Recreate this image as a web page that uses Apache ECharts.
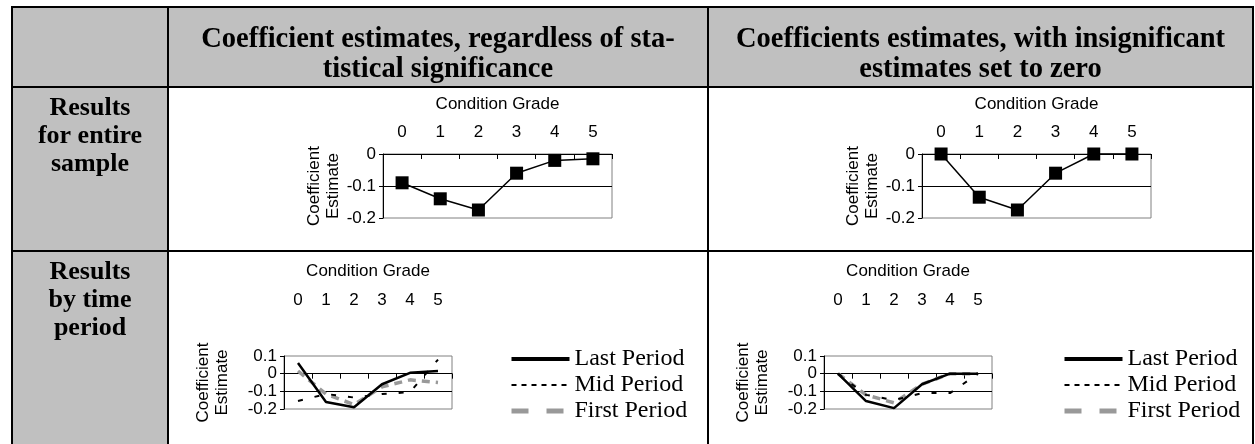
<!DOCTYPE html>
<html><head><meta charset="utf-8">
<script src="https://cdn.jsdelivr.net/npm/echarts@6/dist/echarts.min.js"></script>
<style>html,body{margin:0;padding:0;background:#fff}#c{width:1255px;height:444px}</style>
</head><body><div id="c"></div>
<script>
// ---- data ----
const categories = ['0', '1', '2', '3', '4', '5'];
const colHeaders = [
  ['Coefficient estimates, regardless of sta-', 'tistical significance'],
  ['Coefficients estimates, with insignificant', 'estimates set to zero']
];
const rowHeaders = [
  ['Results', 'for entire', 'sample'],
  ['Results', 'by time', 'period']
];
const axisTitleX = 'Condition Grade';
const axisTitleY = 'Coefficient\nEstimate';
const periodNames = ['Last Period', 'Mid Period', 'First Period'];

const entireAll = [-0.09, -0.14, -0.175, -0.06, -0.02, -0.015];
const entireSig = [0, -0.135, -0.175, -0.06, 0, 0];

const lastAll  = [0.06, -0.16, -0.19, -0.06, 0.005, 0.015];
const midAll   = [-0.155, -0.115, -0.135, -0.115, -0.105, 0.08];
const firstAll = [0.015, -0.115, -0.175, -0.075, -0.035, -0.05];

const lastSig  = [0, -0.155, -0.195, -0.06, 0, 0];
const midSig   = [0, -0.12, -0.15, -0.11, -0.11, 0];
const firstSig = [0, -0.12, -0.165, -0.06, 0, 0];

// ---- styles ----
const SANS = 'Liberation Sans', SERIF = 'Liberation Serif';
const GRAY = '#c0c0c0';
const fmt = v => (Math.abs(v) < 1e-9 ? '0' : v.toFixed(1));

const grids = [
  {left: 383, top: 154, width: 229, height: 64},
  {left: 922, top: 154, width: 229, height: 64},
  {left: 284, top: 356, width: 168, height: 53},
  {left: 824, top: 356, width: 168, height: 53}
].map(g => Object.assign(g, {show: true, borderColor: '#808080', borderWidth: 1, backgroundColor: 'transparent'}));

function labelAxis(gi, margin, nameGap, showLine) {
  return {
    type: 'category', gridIndex: gi, data: categories, position: 'top', boundaryGap: true,
    name: axisTitleX, nameLocation: 'middle', nameGap: nameGap,
    nameTextStyle: {fontFamily: SANS, fontSize: 17, color: '#000'},
    axisLine: {show: showLine, onZero: false, lineStyle: {color: '#000', width: 1}},
    axisTick: {show: showLine, inside: true, length: 5, lineStyle: {color: '#000'}},
    axisLabel: {margin: margin, fontFamily: SANS, fontSize: 17, color: '#000'},
    splitLine: {show: false}
  };
}
function zeroAxis(gi) {
  return {
    type: 'category', gridIndex: gi, data: categories, position: 'top', boundaryGap: true,
    axisLine: {show: true, onZero: true, lineStyle: {color: '#000', width: 1}},
    axisTick: {show: true, inside: true, length: 5, lineStyle: {color: '#000'}},
    axisLabel: {show: false}, splitLine: {show: false}
  };
}
function valAxis(gi, min, max, nameGap, margin) {
  return {
    type: 'value', gridIndex: gi, min: min, max: max, interval: 0.1, position: 'left',
    name: axisTitleY, nameLocation: 'middle', nameGap: nameGap,
    nameTextStyle: {fontFamily: SANS, fontSize: 17, lineHeight: 19, color: '#000'},
    axisLine: {show: true, onZero: false, lineStyle: {color: '#000', width: 1}},
    axisTick: {show: true, length: 4, lineStyle: {color: '#000'}},
    axisLabel: {margin: margin, fontFamily: SANS, fontSize: 17, color: '#000', formatter: fmt},
    splitLine: {show: true, showMinLine: false, showMaxLine: false, lineStyle: {color: '#000', width: 1}}
  };
}

const xAxes = [
  labelAxis(0, 13, 41, true),
  labelAxis(1, 13, 41, true),
  labelAxis(2, 47, 76, false), zeroAxis(2),
  labelAxis(3, 47, 76, false), zeroAxis(3)
];
const yAxes = [
  valAxis(0, -0.2, 0, 40, 7), valAxis(1, -0.2, 0, 40, 7),
  valAxis(2, -0.2, 0.1, 52, 7), valAxis(3, -0.2, 0.1, 52, 7)
];

function markerSeries(name, xi, yi, data) {
  return {
    name: name, type: 'line', xAxisIndex: xi, yAxisIndex: yi, data: data, clip: false,
    symbol: 'rect', symbolSize: 13, showAllSymbol: true,
    itemStyle: {color: '#000'}, lineStyle: {color: '#000', width: 1.5}, z: 5
  };
}
const periodStyles = [
  {color: '#000', width: 2.5, type: 'solid', z: 6},
  {color: '#000', width: 2, type: [5, 12], z: 5},
  {color: '#999', width: 3.5, type: [8, 6], z: 4}
];
function periodSeries(xi, yi, sets) {
  return sets.map((d, i) => ({
    name: periodNames[i], type: 'line', xAxisIndex: xi, yAxisIndex: yi, data: d,
    symbol: 'none', clip: false, z: periodStyles[i].z,
    lineStyle: {color: periodStyles[i].color, width: periodStyles[i].width, type: periodStyles[i].type},
    itemStyle: {color: periodStyles[i].color}
  }));
}
const legendLine = [
  {color: '#000', width: 4, type: 'solid'},
  {color: '#000', width: 2, type: [5, 5]},
  {color: '#999', width: 5, type: [17, 18]}
];
function legendAt(left) {
  return {
    orient: 'vertical', left: left, top: 342, itemWidth: 58, itemHeight: 14, itemGap: 2,
    selectedMode: false,
    textStyle: {fontFamily: SERIF, fontSize: 24, color: '#000', lineHeight: 24},
    data: periodNames.map((n, i) => ({name: n, lineStyle: legendLine[i], itemStyle: {opacity: 0}}))
  };
}

// ---- table graphics ----
const g = [];
const L = 11, C1 = 167, C2 = 707, R = 1252, T = 6, H1 = 86, H2 = 250, B = 444;
g.push({type: 'rect', shape: {x: L, y: T, width: R - L, height: H1 - T}, style: {fill: GRAY}, z: 0});
g.push({type: 'rect', shape: {x: L, y: H1, width: C1 - L, height: B - H1}, style: {fill: GRAY}, z: 0});
const lines = [
  [L, T, R + 2, T], [L, H1, R + 2, H1], [L, H2, R + 2, H2],
  [L, T, L, B], [C1, T, C1, B], [C2, T, C2, B], [R, T, R, B]
];
lines.forEach(l => g.push({
  type: 'rect',
  shape: l[0] === l[2] ? {x: l[0], y: l[1], width: 2, height: l[3] - l[1]} : {x: l[0], y: l[1], width: l[2] - l[0], height: 2},
  style: {fill: '#000'}, z: 1
}));
const colCenters = [(C1 + C2) / 2 + 1, (C2 + R) / 2 + 1];
colHeaders.forEach((lns, ci) => lns.forEach((t, li) => g.push({
  type: 'text', x: colCenters[ci], y: 40 + li * 30, z: 2,
  style: {text: t, fontFamily: SERIF, fontWeight: 'bold', fontSize: 28.5, fill: '#000', align: 'center', verticalAlign: 'middle'}
})));
const rowTops = [108, 272];
rowHeaders.forEach((lns, ri) => lns.forEach((t, li) => g.push({
  type: 'text', x: (L + C1) / 2 + 1, y: rowTops[ri] + li * 28, z: 2,
  style: {text: t, fontFamily: SERIF, fontWeight: 'bold', fontSize: 26, fill: '#000', align: 'center', verticalAlign: 'middle'}
})));

const option = {
  animation: false,
  backgroundColor: '#fff',
  graphic: g,
  grid: grids,
  xAxis: xAxes,
  yAxis: yAxes,
  legend: [legendAt(504), legendAt(1057)],
  series: [
    markerSeries('Entire (all)', 0, 0, entireAll),
    markerSeries('Entire (significant)', 1, 1, entireSig),
    ...periodSeries(2, 2, [lastAll, midAll, firstAll]),
    ...periodSeries(4, 3, [lastSig, midSig, firstSig])
  ]
};
const chart = echarts.init(document.getElementById('c'), null, {renderer: 'canvas'});
chart.setOption(option);
</script>
</body></html>
